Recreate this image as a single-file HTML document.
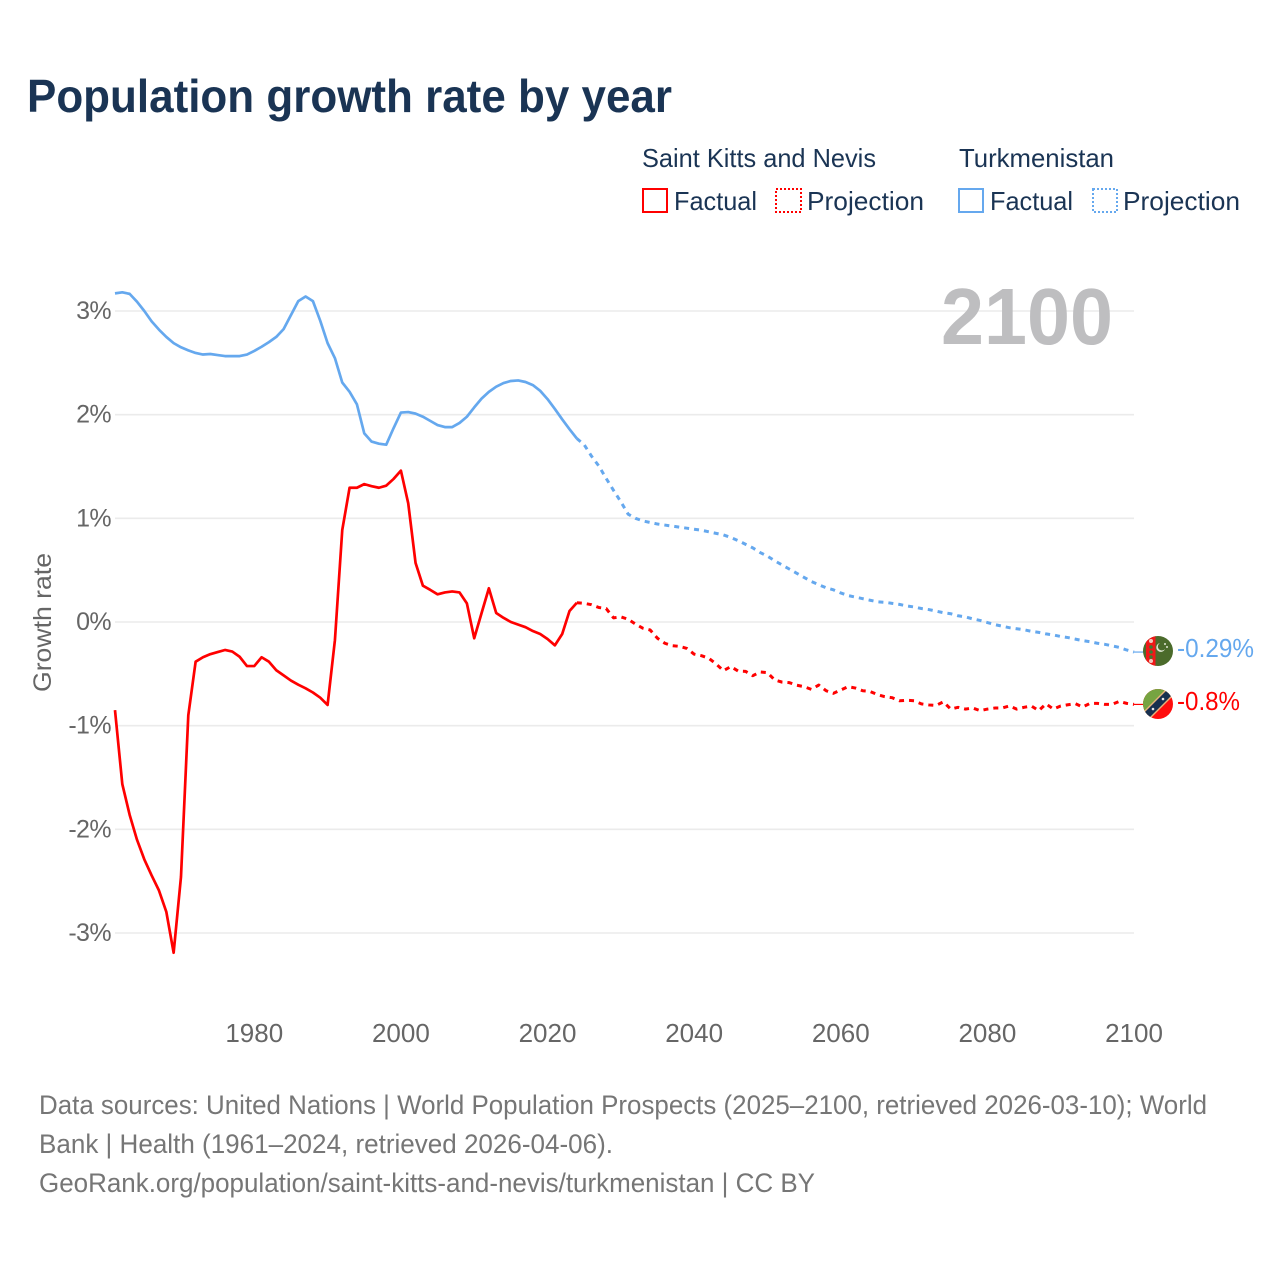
<!DOCTYPE html>
<html lang="en">
<head>
<meta charset="utf-8">
<title>Population growth rate by year</title>
<style>
html,body{margin:0;padding:0;background:#fff}
svg{display:block;font-family:"Liberation Sans",sans-serif}
</style>
</head>
<body>
<svg id="chart" xmlns="http://www.w3.org/2000/svg" width="1280" height="1280" viewBox="0 0 1280 1280">
  <defs>
    <clipPath id="flag-clip-a"><circle cx="1158" cy="651" r="15"/></clipPath>
    <clipPath id="flag-clip-b"><circle cx="1158" cy="704" r="15"/></clipPath>
  </defs>
  <rect width="1280" height="1280" fill="#fff"/>
  <text x="27" y="112" font-size="46" font-weight="700" fill="#1a3454" textLength="645" lengthAdjust="spacingAndGlyphs">Population growth rate by year</text>

  <g font-size="26" fill="#1a3454">
    <text x="642" y="167" textLength="234" lengthAdjust="spacingAndGlyphs">Saint Kitts and Nevis</text>
    <text x="959" y="167" textLength="155" lengthAdjust="spacingAndGlyphs">Turkmenistan</text>
    <rect x="643" y="189" width="24" height="23" fill="none" stroke="#ff0000" stroke-width="2"/>
    <text x="674" y="210" textLength="83" lengthAdjust="spacingAndGlyphs">Factual</text>
    <rect x="776" y="189" width="25" height="23" fill="none" stroke="#ff0000" stroke-width="2" stroke-dasharray="2,2"/>
    <text x="807" y="210" textLength="117" lengthAdjust="spacingAndGlyphs">Projection</text>
    <rect x="959" y="189" width="24" height="23" fill="none" stroke="#65a8ee" stroke-width="2"/>
    <text x="990" y="210" textLength="83" lengthAdjust="spacingAndGlyphs">Factual</text>
    <rect x="1093" y="189" width="24" height="23" fill="none" stroke="#65a8ee" stroke-width="2" stroke-dasharray="2,2"/>
    <text x="1123" y="210" textLength="117" lengthAdjust="spacingAndGlyphs">Projection</text>
  </g>

  <g id="grid"></g>
  <g id="y-labels"></g>
  <g id="x-labels"></g>

  <text x="1113" y="344" text-anchor="end" font-size="80" font-weight="700" fill="#bebec0" textLength="172" lengthAdjust="spacingAndGlyphs">2100</text>

  <text transform="translate(51,692) rotate(-90)" font-size="25" fill="#666" textLength="139" lengthAdjust="spacingAndGlyphs">Growth rate</text>

  <g id="series"></g>

  <g clip-path="url(#flag-clip-a)">
    <rect x="1143" y="636" width="30" height="30" fill="#4b6b2b"/>
    <rect x="1146" y="636" width="9.5" height="30" fill="#f01818"/>
    <circle cx="1151" cy="641" r="2" fill="#f2c9c0"/>
    <circle cx="1151" cy="647" r="1.8" fill="#3f7a33"/>
    <circle cx="1151" cy="652" r="1.8" fill="#3f7a33"/>
    <circle cx="1151" cy="657" r="1.8" fill="#3f7a33"/>
    <circle cx="1151" cy="661" r="2" fill="#f2c9c0"/>
    <path d="M1160 643a4.5 4.5 0 1 0 5 6a4 4 0 1 1-5-6z" fill="#dfe6d4"/>
    <circle cx="1165" cy="644" r="1" fill="#dfe6d4"/>
    <circle cx="1167" cy="647" r="1" fill="#dfe6d4"/>
  </g>
  <g clip-path="url(#flag-clip-b)">
    <rect x="1143" y="689" width="30" height="30" fill="#ff0d0d"/>
    <polygon points="1143,689 1173,689 1143,719" fill="#76a441"/>
    <polygon points="1166,689 1173,696 1150,719 1143,712" fill="#e8b27a"/>
    <polygon points="1167,690 1172,695 1149,718 1144,713" fill="#17304f"/>
    <circle cx="1153" cy="709" r="1.3" fill="#e8e8e8"/>
    <circle cx="1163" cy="699" r="1.3" fill="#e8e8e8"/>
  </g>

  <text x="1177" y="657" font-size="26" fill="#65a8ee" textLength="77" lengthAdjust="spacingAndGlyphs">-0.29%</text>
  <text x="1177" y="710" font-size="26" fill="#ff0000" textLength="63" lengthAdjust="spacingAndGlyphs">-0.8%</text>

  <g font-size="27" fill="#767676">
    <text x="39" y="1114" textLength="1168" lengthAdjust="spacingAndGlyphs">Data sources: United Nations | World Population Prospects (2025–2100, retrieved 2026-03-10); World</text>
    <text x="39" y="1153" textLength="574" lengthAdjust="spacingAndGlyphs">Bank | Health (1961–2024, retrieved 2026-04-06).</text>
    <text x="39" y="1192" textLength="776" lengthAdjust="spacingAndGlyphs">GeoRank.org/population/saint-kitts-and-nevis/turkmenistan | CC BY</text>
  </g>
</svg>
<script>
const factualYears = [1961,1962,1963,1964,1965,1966,1967,1968,1969,1970,1971,1972,1973,1974,1975,1976,1977,1978,1979,1980,1981,1982,1983,1984,1985,1986,1987,1988,1989,1990,1991,1992,1993,1994,1995,1996,1997,1998,1999,2000,2001,2002,2003,2004,2005,2006,2007,2008,2009,2010,2011,2012,2013,2014,2015,2016,2017,2018,2019,2020,2021,2022,2023,2024];
const projectionYears = [2024,2025,2026,2027,2028,2029,2030,2031,2032,2033,2034,2035,2036,2037,2038,2039,2040,2041,2042,2043,2044,2045,2046,2047,2048,2049,2050,2051,2052,2053,2054,2055,2056,2057,2058,2059,2060,2061,2062,2063,2064,2065,2066,2067,2068,2069,2070,2071,2072,2073,2074,2075,2076,2077,2078,2079,2080,2081,2082,2083,2084,2085,2086,2087,2088,2089,2090,2091,2092,2093,2094,2095,2096,2097,2098,2099,2100];
const kittsFactual = [-0.85,-1.565,-1.86,-2.10,-2.29,-2.445,-2.59,-2.795,-3.19,-2.46,-0.90,-0.383,-0.34,-0.31,-0.29,-0.27,-0.285,-0.335,-0.425,-0.425,-0.34,-0.383,-0.465,-0.515,-0.565,-0.605,-0.64,-0.68,-0.73,-0.80,-0.175,0.887,1.295,1.295,1.33,1.31,1.295,1.315,1.38,1.46,1.145,0.57,0.35,0.31,0.267,0.285,0.295,0.285,0.18,-0.157,0.085,0.325,0.087,0.04,0,-0.025,-0.05,-0.087,-0.116,-0.164,-0.225,-0.116,0.106,0.186];
const kittsProjection = [0.186,0.18,0.167,0.14,0.13,0.04,0.05,0.026,-0.02,-0.06,-0.077,-0.157,-0.205,-0.228,-0.235,-0.255,-0.31,-0.325,-0.35,-0.405,-0.47,-0.43,-0.473,-0.476,-0.518,-0.482,-0.489,-0.56,-0.58,-0.585,-0.61,-0.624,-0.65,-0.608,-0.663,-0.688,-0.656,-0.624,-0.637,-0.663,-0.67,-0.70,-0.72,-0.73,-0.76,-0.755,-0.76,-0.79,-0.80,-0.805,-0.77,-0.84,-0.823,-0.84,-0.83,-0.855,-0.84,-0.83,-0.83,-0.81,-0.84,-0.823,-0.81,-0.855,-0.79,-0.84,-0.81,-0.798,-0.788,-0.82,-0.785,-0.785,-0.795,-0.795,-0.765,-0.785,-0.795];
const turkmenFactual = [3.17,3.18,3.165,3.09,3.0,2.9,2.82,2.75,2.69,2.65,2.62,2.595,2.58,2.585,2.575,2.565,2.565,2.565,2.58,2.615,2.655,2.70,2.75,2.825,2.96,3.095,3.14,3.095,2.905,2.69,2.545,2.31,2.22,2.10,1.82,1.74,1.72,1.71,1.87,2.02,2.025,2.01,1.98,1.94,1.90,1.88,1.88,1.92,1.98,2.07,2.155,2.22,2.27,2.305,2.325,2.33,2.315,2.285,2.23,2.15,2.055,1.955,1.86,1.77];
const turkmenProjection = [1.77,1.71,1.60,1.505,1.385,1.27,1.16,1.04,1.00,0.975,0.96,0.945,0.935,0.925,0.915,0.905,0.895,0.885,0.87,0.855,0.84,0.815,0.785,0.75,0.715,0.67,0.635,0.59,0.55,0.51,0.47,0.43,0.39,0.36,0.33,0.31,0.28,0.255,0.24,0.225,0.21,0.195,0.19,0.18,0.17,0.155,0.145,0.13,0.12,0.105,0.09,0.08,0.06,0.05,0.03,0.015,-0.005,-0.025,-0.04,-0.055,-0.065,-0.075,-0.09,-0.10,-0.115,-0.125,-0.14,-0.15,-0.165,-0.18,-0.19,-0.205,-0.215,-0.23,-0.245,-0.27,-0.29];
const yTicks = [3,2,1,0,-1,-2,-3];
const yTickLabels = ['3%','2%','1%','0%','-1%','-2%','-3%'];
const xTicks = [1980,2000,2020,2040,2060,2080,2100];
const xTickLabels = ['1980','2000','2020','2040','2060','2080','2100'];

const NS = 'http://www.w3.org/2000/svg';
const plotLeft = 115;
const plotRight = 1134;
function xScale(year) { return 1134 + (year - 2100) * 7.331; }
function yScale(v) { return 622 - v * 103.67; }

const gridLayer = document.getElementById('grid');
const yLabelLayer = document.getElementById('y-labels');
const xLabelLayer = document.getElementById('x-labels');
const seriesLayer = document.getElementById('series');

yTicks.forEach(function (t, i) {
  const line = document.createElementNS(NS, 'line');
  line.setAttribute('x1', plotLeft);
  line.setAttribute('x2', plotRight);
  line.setAttribute('y1', yScale(t));
  line.setAttribute('y2', yScale(t));
  line.setAttribute('stroke', '#ebebeb');
  line.setAttribute('stroke-width', '1.6');
  
  
  gridLayer.appendChild(line);

  const label = document.createElementNS(NS, 'text');
  label.setAttribute('x', 111);
  label.setAttribute('y', yScale(t) + 8);
  label.setAttribute('text-anchor', 'end');
  label.setAttribute('font-size', '25');
  label.setAttribute('letter-spacing', '-0.6');
  label.setAttribute('fill', '#666');
  
  
  label.textContent = yTickLabels[i];
  yLabelLayer.appendChild(label);
});

xTicks.forEach(function (t, i) {
  const label = document.createElementNS(NS, 'text');
  label.setAttribute('x', xScale(t));
  label.setAttribute('y', 1042);
  label.setAttribute('text-anchor', 'middle');
  label.setAttribute('font-size', '26');
  label.setAttribute('fill', '#666');
  
  
  label.textContent = xTickLabels[i];
  xLabelLayer.appendChild(label);
});

function pathFrom(years, values) {
  return values.map(function (v, i) {
    return (i ? 'L' : 'M') + xScale(years[i]).toFixed(2) + ' ' + yScale(v).toFixed(2);
  }).join(' ');
}

function drawLine(years, values, color, dash, width, name) {
  const p = document.createElementNS(NS, 'path');
  p.setAttribute('d', pathFrom(years, values));
  p.setAttribute('fill', 'none');
  p.setAttribute('stroke', color);
  p.setAttribute('stroke-width', width);
  p.setAttribute('stroke-linejoin', 'round');
  if (dash) p.setAttribute('stroke-dasharray', dash);
  
  
  seriesLayer.appendChild(p);
}

function drawConnector(value, color, name) {
  const c = document.createElementNS(NS, 'line');
  c.setAttribute('x1', xScale(2100));
  c.setAttribute('x2', xScale(2100) + 10);
  c.setAttribute('y1', yScale(value));
  c.setAttribute('y2', yScale(value));
  c.setAttribute('stroke', color);
  c.setAttribute('stroke-width', '1.2');
  
  
  seriesLayer.appendChild(c);
}

drawLine(factualYears, turkmenFactual, '#65a8ee', null, '2.7', 'line-turkmenistan-factual');
drawLine(projectionYears, turkmenProjection, '#65a8ee', '5,5', '3', 'line-turkmenistan-projection');
drawLine(factualYears, kittsFactual, '#ff0000', null, '2.7', 'line-saint-kitts-factual');
drawLine(projectionYears, kittsProjection, '#ff0000', '5,5', '3', 'line-saint-kitts-projection');
drawConnector(turkmenProjection[turkmenProjection.length - 1], '#65a8ee', 'connector-turkmenistan');
drawConnector(kittsProjection[kittsProjection.length - 1], '#ff0000', 'connector-saint-kitts');
</script>
</body>
</html>
